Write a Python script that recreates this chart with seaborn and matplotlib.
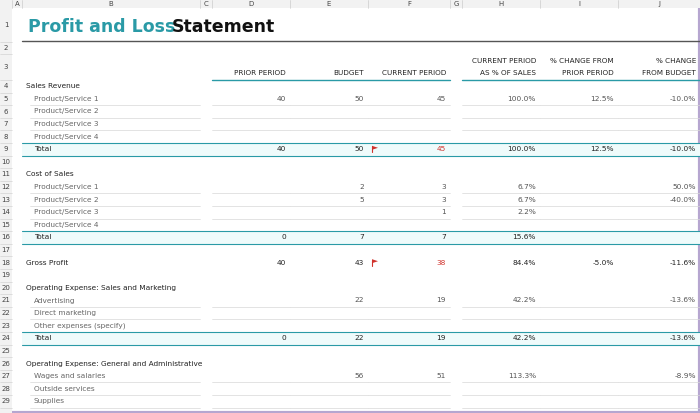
import matplotlib
matplotlib.use("Agg")
import matplotlib.pyplot as plt
import seaborn as sns

sns.set_theme(style="white")

col_letters = ["A", "B", "C", "D", "E", "F", "G", "H", "I", "J"]
col_edges = [12, 22, 200, 212, 290, 368, 450, 462, 540, 618, 700]
headers = {"D": ["PRIOR PERIOD"], "E": ["BUDGET"], "F": ["CURRENT PERIOD"],
           "H": ["CURRENT PERIOD", "AS % OF SALES"], "I": ["% CHANGE FROM", "PRIOR PERIOD"],
           "J": ["% CHANGE", "FROM BUDGET"]}
# row number, label, kind, prior, budget, current, pct_sales, chg_prior, chg_budget
rows = [
    (4, "Sales Revenue", "head", "", "", "", "", "", ""),
    (5, "Product/Service 1", "item", "40", "50", "45", "100.0%", "12.5%", "-10.0%"),
    (6, "Product/Service 2", "item", "", "", "", "", "", ""),
    (7, "Product/Service 3", "item", "", "", "", "", "", ""),
    (8, "Product/Service 4", "item", "", "", "", "", "", ""),
    (9, "Total", "total", "40", "50", "45", "100.0%", "12.5%", "-10.0%"),
    (10, "", "blank", "", "", "", "", "", ""),
    (11, "Cost of Sales", "head", "", "", "", "", "", ""),
    (12, "Product/Service 1", "item", "", "2", "3", "6.7%", "", "50.0%"),
    (13, "Product/Service 2", "item", "", "5", "3", "6.7%", "", "-40.0%"),
    (14, "Product/Service 3", "item", "", "", "1", "2.2%", "", ""),
    (15, "Product/Service 4", "item", "", "", "", "", "", ""),
    (16, "Total", "total", "0", "7", "7", "15.6%", "", ""),
    (17, "", "blank", "", "", "", "", "", ""),
    (18, "Gross Profit", "gross", "40", "43", "38", "84.4%", "-5.0%", "-11.6%"),
    (19, "", "blank", "", "", "", "", "", ""),
    (20, "Operating Expense: Sales and Marketing", "head", "", "", "", "", "", ""),
    (21, "Advertising", "item", "", "22", "19", "42.2%", "", "-13.6%"),
    (22, "Direct marketing", "item", "", "", "", "", "", ""),
    (23, "Other expenses (specify)", "item", "", "", "", "", "", ""),
    (24, "Total", "total", "0", "22", "19", "42.2%", "", "-13.6%"),
    (25, "", "blank", "", "", "", "", "", ""),
    (26, "Operating Expense: General and Administrative", "head", "", "", "", "", "", ""),
    (27, "Wages and salaries", "item", "", "56", "51", "113.3%", "", "-8.9%"),
    (28, "Outside services", "item", "", "", "", "", "", ""),
    (29, "Supplies", "item", "", "", "", "", "", ""),
]
red_rows = [9, 18]

W, H = 700, 413
fig = plt.figure(figsize=(7, 4.13), dpi=100)
ax = fig.add_axes([0, 0, 1, 1])
ax.set_xlim(0, W); ax.set_ylim(H, 0); ax.axis("off")
ax.add_patch(plt.Rectangle((0, 0), W, H, fc="white", ec="#b6a6d0", lw=3))

teal = "#2a9aa6"
ax.add_patch(plt.Rectangle((0, 0), W, 8, fc="#f2f2f2", ec="none"))
ax.add_patch(plt.Rectangle((0, 0), 12, H, fc="#f2f2f2", ec="none"))
for i, l in enumerate(col_letters):
    ax.text((col_edges[i] + col_edges[i + 1]) / 2, 4, l, fontsize=5, ha="center", va="center", color="#444")
for e in col_edges:
    ax.plot([e, e], [0, 8], color="#ccc", lw=0.5)

row_y = {1: (8, 42), 2: (42, 54), 3: (54, 80)}
y = 80
for r in range(4, 30):
    row_y[r] = (y, y + 12.6); y += 12.6
for r, (a, b) in row_y.items():
    ax.text(6, (a + b) / 2, str(r), fontsize=5, ha="center", va="center", color="#444")
    ax.plot([0, 12], [b, b], color="#ccc", lw=0.4)

ax.text(28, 27, "Profit and Loss", fontsize=12.5, fontweight="bold", color=teal, va="center")
ax.text(172, 27, "Statement", fontsize=12.5, fontweight="bold", color="#111", va="center")
ax.plot([22, 700], [41, 41], color="#555", lw=1)

def cx(c):
    i = col_letters.index(c)
    return col_edges[i], col_edges[i + 1]

for c, lines in headers.items():
    l, r = cx(c)
    base = 73
    for k, t in enumerate(reversed(lines)):
        ax.text(r - 4, base - k * 12, t, fontsize=5.2, ha="right", va="center", color="#222")
ax.plot([212, 450], [80, 80], color=teal, lw=1)
ax.plot([462, 700], [80, 80], color=teal, lw=1)

data_cols = ["D", "E", "F", "H", "I", "J"]
for row in rows:
    r, label, kind = row[0], row[1], row[2]
    a, b = row_y[r]; ym = (a + b) / 2
    if kind == "total":
        ax.add_patch(plt.Rectangle((22, a), 678, b - a, fc="#effbfb", ec="none"))
        ax.plot([22, 700], [a, a], color=teal, lw=0.8)
        ax.plot([22, 700], [b, b], color=teal, lw=0.8)
    elif kind == "item":
        for c in ["B"] + data_cols:
            l, rr = cx(c)
            ax.plot([l + (8 if c == "B" else 0), rr], [b, b], color="#d8d8d8", lw=0.5)
    bold = kind in ("head", "total", "gross")
    x = 34 if kind in ("item", "total") else 26
    ax.text(x, ym, label, fontsize=5.3, va="center", color="#222" if bold else "#666")
    for c, v in zip(data_cols, row[3:]):
        if v:
            l, rr = cx(c)
            col = "#d0322c" if (c == "F" and r in red_rows) else ("#222" if bold else "#555")
            ax.text(rr - 4, ym, v, fontsize=5.3, ha="right", va="center", color=col)
    if r in red_rows:
        ax.plot([372, 372], [ym - 3, ym + 3], color="#d0322c", lw=0.8)
        ax.fill([372, 378, 372], [ym - 3.5, ym - 1.5, ym + 0.5], color="#d0322c", lw=0)

fig.savefig("out.png", dpi=100)
